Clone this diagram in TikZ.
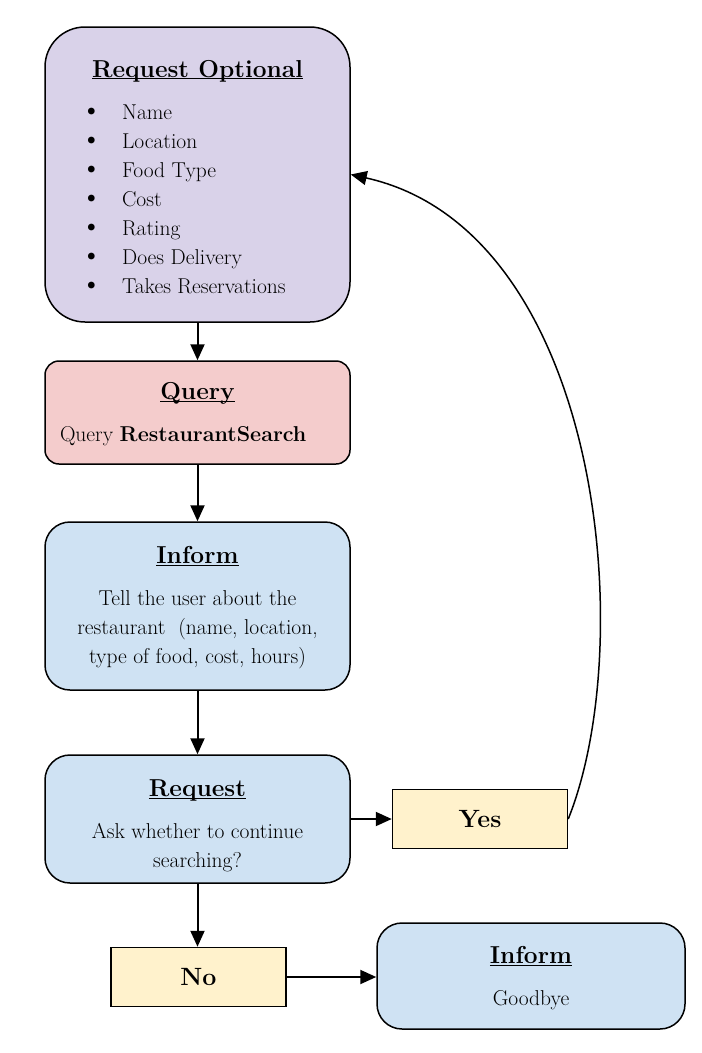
\documentclass[tikz,border=0pt]{standalone}
\usetikzlibrary{arrows.meta}
\definecolor{lilac}{HTML}{D9D2E9}
\definecolor{rose}{HTML}{F4CCCC}
\definecolor{skyblue}{HTML}{CFE2F3}
\definecolor{cream}{HTML}{FFF2CC}
\newcommand{\boxtitle}[2][30pt]{{\fontsize{24.5}{30}\selectfont\bfseries\rule{0pt}{#1}\underline{\raisebox{0pt}[\height][0pt]{#2}}}}
\newcommand{\listdot}{{\fontsize{30}{29}\selectfont\textbullet}}

\begin{document}
\begin{tikzpicture}[x=1pt,y=-1pt,
  state/.style={draw, line width=1.5pt, rounded corners=25pt, minimum width=305pt,
    align=center, inner sep=0pt, font=\fontsize{21.5}{29}\selectfont},
  answer/.style={draw, line width=1.5pt, fill=cream, minimum width=175pt,
    minimum height=59pt, font=\fontsize{25}{30}\selectfont\bfseries},
  flow/.style={-{Triangle[length=16pt,width=14pt]}, line width=2pt}]
\useasboundingbox (0,0) rectangle (702,1053);

\node[state, fill=lilac, rounded corners=40pt, minimum height=295pt] (optional) at (197.5,174.5)
  {\boxtitle{Request Optional}\\[13pt]
   \makebox[250pt][l]{\hspace{8pt}\begin{tabular}[t]{@{}l@{\hspace{20pt}}l@{}}
   \listdot & Name\\
   \listdot & Location\\
   \listdot & Food Type\\
   \listdot & Cost\\
   \listdot & Rating\\
   \listdot & Does Delivery\\
   \listdot & Takes Reservations
   \end{tabular}}};
\node[state, fill=rose, rounded corners=14pt, minimum height=103pt] (query) at (197.5,412.5)
  {\boxtitle[21pt]{Query}\\[13pt]
   \makebox[275pt][l]{Query \textbf{RestaurantSearch}}};
\node[state, fill=skyblue, minimum height=168pt] (inform) at (197.5,606)
  {\boxtitle[20pt]{Inform}\\[13pt]
   Tell the user about the\\
   restaurant\ \ (name, location,\\
   type of food, cost, hours)};
\node[state, fill=skyblue, minimum height=128pt] (request) at (197.5,819)
  {\boxtitle{Request}\\[13pt]
   Ask whether to continue\\
   searching?};
\node[answer] (yes) at (480,819) {Yes};
\node[answer] (no) at (198.5,977) {No};
\node[state, fill=skyblue, minimum width=308pt, minimum height=106pt] (goodbye) at (531,976)
  {\boxtitle[22pt]{Inform}\\[13pt]
   Goodbye};

\draw[flow] (optional) -- (query);
\draw[flow] (query) -- (inform);
\draw[flow] (inform) -- (request);
\draw[flow] (request) -- (yes);
\draw[flow] (request.south) -- (request.south |- no.north);
\draw[flow] (no.east) -- (no.east -| goodbye.west);

\draw[flow, line width=1.5pt] (yes.east) .. controls (640,640) and (600,230) .. (optional.east);
\end{tikzpicture}
\end{document}
